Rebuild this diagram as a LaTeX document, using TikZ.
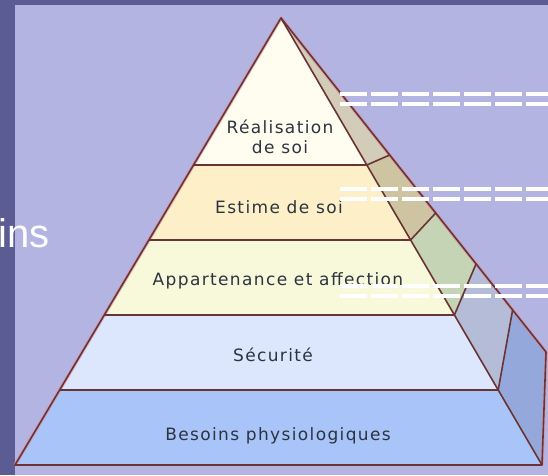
\documentclass[tikz,border=0pt]{standalone}
\usepackage{fontspec}
\newfontfamily\lblfont[LetterSpace=8]{DejaVu Sans}
\newfontfamily\slidefont{Liberation Sans}
\definecolor{frame}{HTML}{5C5C94}
\definecolor{lav}{HTML}{B4B4E2}
\definecolor{edge}{HTML}{6A3434}
\definecolor{halo}{HTML}{D890A0}
\definecolor{bandA}{HTML}{FFFDF0}
\definecolor{bandB}{HTML}{FDF0C8}
\definecolor{bandC}{HTML}{F8F8DA}
\definecolor{bandD}{HTML}{DCE6FC}
\definecolor{bandE}{HTML}{A8C4F8}
\definecolor{sideA}{HTML}{D2CCB8}
\definecolor{sideB}{HTML}{CFC4A2}
\definecolor{sideC}{HTML}{C4D4B4}
\definecolor{sideD}{HTML}{B4BCD8}
\definecolor{sideE}{HTML}{94A8DC}
\definecolor{txt}{HTML}{2C3440}
\tikzset{
  lbl/.style={font=\lblfont\fontsize{17}{20}\selectfont, text=txt, align=center, inner sep=0pt},
  edgeline/.style={draw=edge, line width=1.6pt, line join=round},
  halol/.style={draw=halo, line width=3.5pt, line join=round, opacity=0.6},
  wdash/.style={draw=white, line width=4pt, dash pattern=on 27pt off 4pt},
}
\begin{document}
\begin{tikzpicture}[x=1pt,y=-1pt]
\useasboundingbox (0,0) rectangle (548,475);
\fill[frame] (0,0) rectangle (548,475);
\fill[lav] (15,5) rectangle (548,475);
\node[anchor=base east, inner sep=0pt, text=white, font=\slidefont\fontsize{40}{42}\selectfont] (oins) at (50,247) {oins};
% key points
\coordinate (apex) at (281,18);
\coordinate (bl) at (15,465);
\coordinate (br) at (542,465);
\coordinate (ob) at (546,352);
% left edge points
\coordinate (l1) at (193.5,165);
\coordinate (l2) at (148.9,240);
\coordinate (l3) at (104.3,315);
\coordinate (l4) at (59.6,390);
% front right edge points
\coordinate (r1) at (366.8,165);
\coordinate (r2) at (410.6,240);
\coordinate (r3) at (454.4,315);
\coordinate (r4) at (498.2,390);
% outer edge points
\coordinate (o1) at (389.7,155);
\coordinate (o2) at (435.7,213);
\coordinate (o3) at (476.0,264);
\coordinate (o4) at (512.6,310);
% bands
\fill[bandA] (apex) -- (r1) -- (l1) -- cycle;
\fill[bandB] (l1) -- (r1) -- (r2) -- (l2) -- cycle;
\fill[bandC] (l2) -- (r2) -- (r3) -- (l3) -- cycle;
\fill[bandD] (l3) -- (r3) -- (r4) -- (l4) -- cycle;
\fill[bandE] (l4) -- (r4) -- (br) -- (bl) -- cycle;
% side faces
\fill[sideA] (apex) -- (o1) -- (r1) -- cycle;
\fill[sideB] (r1) -- (o1) -- (o2) -- (r2) -- cycle;
\fill[sideC] (r2) -- (o2) -- (o3) -- (r3) -- cycle;
\fill[sideD] (r3) -- (o3) -- (o4) -- (r4) -- cycle;
\fill[sideE] (r4) -- (o4) -- (ob) -- (br) -- cycle;
% halos
\draw[halol] (bl) -- (apex) -- (ob) -- (br);
% lines
\draw[edgeline] (bl) -- (apex) -- (ob) -- (br) -- cycle;
\draw[edgeline] (apex) -- (br);
\draw[edgeline] (l1) -- (r1) -- (o1);
\draw[edgeline] (l2) -- (r2) -- (o2);
\draw[edgeline] (l3) -- (r3) -- (o3);
\draw[edgeline] (l4) -- (r4) -- (o4);
% labels
\node[lbl, anchor=base] (real) at (280,133) {Réalisation};
\node[lbl, anchor=base] (realb) at (280,153) {de soi};
\node[lbl, anchor=base] (estime) at (279,213) {Estime de soi};
\node[lbl, anchor=base] (appart) at (278,285) {Appartenance et affection};
\node[lbl, anchor=base] (secu) at (273,361) {Sécurité};
\node[lbl, anchor=base] (besoins) at (278,440) {Besoins physiologiques};
% white dashed lines
\coordinate (d1a) at (340,94);  \coordinate (d1b) at (548,94);
\coordinate (d2a) at (340,104); \coordinate (d2b) at (548,104);
\coordinate (d3a) at (340,189); \coordinate (d3b) at (548,189);
\coordinate (d4a) at (340,199); \coordinate (d4b) at (548,199);
\coordinate (d5a) at (340,286); \coordinate (d5b) at (548,286);
\coordinate (d6a) at (340,296); \coordinate (d6b) at (548,296);
\draw[wdash] (d1a) -- (d1b);
\draw[wdash] (d2a) -- (d2b);
\draw[wdash] (d3a) -- (d3b);
\draw[wdash] (d4a) -- (d4b);
\draw[wdash] (d5a) -- (d5b);
\draw[wdash] (d6a) -- (d6b);
\end{tikzpicture}
\end{document}
